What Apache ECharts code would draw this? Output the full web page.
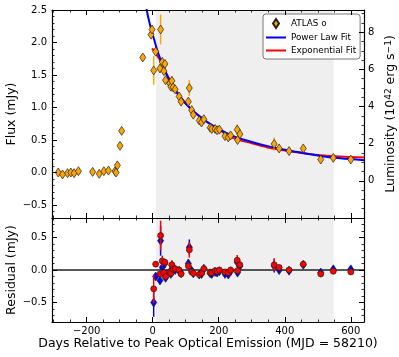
<!DOCTYPE html>
<html>
<head>
<meta charset="utf-8">
<script src="https://cdn.jsdelivr.net/npm/echarts@6/dist/echarts.min.js"></script>
<style>html,body{margin:0;padding:0;background:#fff}#chart{width:399px;height:357px}</style>
</head>
<body>
<div id="chart"></div>
<script>
// ATLAS o light curve, days relative to peak (MJD 58210)
var preDays = [-286, -273, -258, -248, -238, -225, -182, -162, -148, -134, -114, -111, -107, -99, -94, -30, -5, -2];
var preFlux = [0.00, -0.03, -0.01, 0.00, -0.01, 0.02, 0.01, -0.02, 0.02, 0.03, 0.02, 0.00, 0.11, 0.41, 0.64, 1.77, 2.12, 2.20];
var preErr = [0.02, 0.02, 0.02, 0.02, 0.02, 0.02, 0.02, 0.02, 0.02, 0.02, 0.02, 0.02, 0.02, 0.03, 0.03, 0.03, 0.04, 0.04];

// points used for the fits (these have residuals)
var fitDays = [3, 9, 22, 24, 29, 34, 37, 39, 52, 55, 58, 62, 68, 80, 86, 108, 111, 118, 123, 141, 148, 155, 174, 179, 189, 195, 202, 219, 229, 236, 256, 257, 264, 368, 383, 413, 456, 509, 547, 600];
var fitFlux = [1.57, 1.86, 1.60, 2.20, 1.70, 1.56, 1.67, 1.42, 1.37, 1.32, 1.41, 1.31, 1.28, 1.17, 1.09, 1.09, 1.30, 0.96, 0.89, 0.80, 0.77, 0.82, 0.69, 0.67, 0.67, 0.65, 0.66, 0.56, 0.54, 0.57, 0.66, 0.50, 0.59, 0.44, 0.37, 0.33, 0.37, 0.20, 0.225, 0.20];
var fitErr = [0.22, 0.04, 0.05, 0.23, 0.08, 0.04, 0.05, 0.04, 0.04, 0.04, 0.07, 0.04, 0.04, 0.04, 0.04, 0.06, 0.12, 0.03, 0.03, 0.03, 0.03, 0.03, 0.03, 0.03, 0.03, 0.03, 0.03, 0.03, 0.03, 0.03, 0.08, 0.03, 0.04, 0.10, 0.03, 0.03, 0.03, 0.03, 0.03, 0.03];
var plResid = [-0.50, -0.10, -0.16, 0.45, 0.04, -0.06, 0.10, -0.12, -0.03, -0.06, 0.07, 0.00, 0.00, -0.01, -0.05, 0.10, 0.35, -0.01, -0.05, -0.07, -0.06, 0.02, -0.05, -0.06, -0.03, -0.04, -0.02, -0.06, -0.07, -0.02, 0.12, -0.04, 0.06, 0.06, 0.00, -0.01, 0.08, -0.04, 0.01, 0.01];
var expResid = [-0.29, 0.09, -0.06, 0.53, 0.14, -0.04, 0.12, -0.10, -0.03, -0.05, 0.08, 0.01, 0.02, 0.00, -0.06, 0.06, 0.31, -0.03, -0.05, -0.07, -0.05, 0.02, -0.04, -0.04, -0.01, -0.02, 0.00, -0.03, -0.04, 0.00, 0.15, -0.01, 0.08, 0.08, 0.04, 0.00, 0.09, -0.06, -0.02, -0.03];

// fit curves
var plDays = [-20, -18, -8, 2, 12, 22, 32, 42, 62, 83, 113, 143, 164, 200, 244, 300, 345, 400, 467, 507, 568, 640];
var plFlux = [2.62, 2.50, 2.27, 2.09, 1.91, 1.76, 1.63, 1.51, 1.31, 1.16, 0.99, 0.86, 0.78, 0.67, 0.56, 0.47, 0.41, 0.35, 0.29, 0.255, 0.22, 0.19];
var expDays = [-2, 12, 22, 32, 42, 62, 83, 113, 143, 164, 200, 244, 300, 345, 400, 467, 507, 568, 640];
var expFlux = [1.91, 1.81, 1.73, 1.63, 1.52, 1.33, 1.17, 0.99, 0.86, 0.78, 0.66, 0.53, 0.45, 0.39, 0.34, 0.29, 0.265, 0.245, 0.23];

var fitWindow = [10, 548];

var FONT = 'DejaVu Sans';
var chart = echarts.init(document.getElementById('chart'), null, {renderer: 'canvas'});

function pairs(xs, ys) { return xs.map(function (x, i) { return [x, ys[i]]; }); }
function bars(xs, ys, es) { return xs.map(function (x, i) { return [x, ys[i] - es[i], ys[i] + es[i]]; }); }
function minus(v, d) { var s = v.toFixed(d); return v < 0 ? '\u2212' + s.slice(1) : s; }
function isStep(v, step) { var q = v / step; return Math.abs(q - Math.round(q)) < 1e-6; }

function errBar(color, w) {
	return function (params, api) {
		var a = api.coord([api.value(0), api.value(1)]);
		var b = api.coord([api.value(0), api.value(2)]);
		return {type: 'line', shape: {x1: a[0], y1: a[1], x2: b[0], y2: b[1]}, style: {stroke: color, lineWidth: w}};
	};
}

function ax(o) {
	var base = {
		type: 'value', splitLine: {show: false}, z: 10, nameMoveOverlap: false,
		axisLine: {onZero: false, lineStyle: {color: '#000', width: 1.2}},
		axisTick: {inside: true, length: 5, lineStyle: {color: '#000', width: 1}},
		minorTick: {show: true, length: 2.5, lineStyle: {color: '#000', width: 0.8}},
		axisLabel: {show: false, color: '#000', fontSize: 10, fontFamily: FONT},
		nameTextStyle: {color: '#000', fontSize: 12.5, fontFamily: FONT}
	};
	for (var k in o) {
		if (typeof o[k] === 'object' && base[k] && !Array.isArray(o[k])) {
			for (var j in o[k]) base[k][j] = o[k][j];
		} else base[k] = o[k];
	}
	return base;
}

function xa(grid, pos, labels, extra) {
	var o = {gridIndex: grid, position: pos, min: -305, max: 640, splitNumber: 5, minorTick: {splitNumber: 4}};
	if (labels) o.axisLabel = {show: true, margin: 4, formatter: function (v) { return isStep(v, 200) ? minus(v, 0) : ''; }};
	for (var k in extra || {}) o[k] = extra[k];
	return ax(o);
}

chart.setOption({
	animation: false,
	backgroundColor: '#fff',
	grid: [
		{left: 52, right: 35, top: 10, height: 208, outerBoundsMode: 'none', containLabel: false},
		{left: 52, right: 35, top: 218, height: 104, outerBoundsMode: 'none', containLabel: false}
	],
	legend: {
		data: [
			{name: 'ATLAS o', icon: 'path://M3,0L6,4.5L3,9L0,4.5Z'},
			{name: 'Power Law Fit', icon: 'path://M0,0H20V2H0Z'},
			{name: 'Exponential Fit', icon: 'path://M0,0H20V2H0Z'}
		],
		orient: 'vertical', left: 263, top: 14,
		itemWidth: 20, itemHeight: 9, itemGap: 4,
		textStyle: {fontSize: 8.8, fontFamily: FONT, color: '#000'},
		backgroundColor: 'rgba(255,255,255,0.85)', borderColor: '#555', borderWidth: 0.8, borderRadius: 3,
		padding: [4, 4, 4, 3]
	},
	xAxis: [
		xa(0, 'bottom', false),
		xa(0, 'top', false),
		xa(1, 'bottom', true, {name: 'Days Relative to Peak Optical Emission (MJD = 58210)', nameLocation: 'middle', nameGap: 15}),
		xa(1, 'top', false)
	],
	yAxis: [
		ax({gridIndex: 0, position: 'left', min: -0.7, max: 2.5, splitNumber: 6, minorTick: {splitNumber: 5},
			name: 'Flux (mJy)', nameLocation: 'middle', nameGap: 34, nameRotate: 90,
			axisLabel: {show: true, margin: 5, formatter: function (v) { return isStep(v, 0.5) ? minus(v, 1) : ''; }}}),
		ax({gridIndex: 0, position: 'right', min: -2, max: 9.2, interval: 2, minorTick: {splitNumber: 4},
			name: 'Luminosity (10{sup|42} erg s{sup|\u22121})', nameLocation: 'middle', nameGap: 20, nameRotate: 90,
			nameTextStyle: {rich: {sup: {fontSize: 9, fontFamily: FONT, color: '#000', verticalAlign: 'top', lineHeight: 9}}},
			axisLabel: {show: true, margin: 4, formatter: function (v) { return (v >= 0 && v <= 8 && isStep(v, 2)) ? String(v) : ''; }}}),
		ax({gridIndex: 1, position: 'left', min: -0.8, max: 0.8, splitNumber: 3, minorTick: {splitNumber: 5},
			name: 'Residual (mJy)', nameLocation: 'middle', nameGap: 34, nameRotate: 90,
			axisLabel: {show: true, margin: 5, formatter: function (v) { return isStep(v, 0.5) ? minus(v, 1) : ''; }}}),
		ax({gridIndex: 1, position: 'right', min: -0.8, max: 0.8, splitNumber: 3, minorTick: {splitNumber: 5}})
	],
	series: [
		{
			name: 'shadeTop', type: 'line', xAxisIndex: 0, yAxisIndex: 0, data: [], z: 1, silent: true,
			markArea: {silent: true, itemStyle: {color: '#efefef'}, data: [[{xAxis: fitWindow[0]}, {xAxis: fitWindow[1]}]]}
		},
		{
			name: 'shadeBottom', type: 'line', xAxisIndex: 2, yAxisIndex: 2, data: [], z: 1, silent: true,
			markArea: {silent: true, itemStyle: {color: '#efefef'}, data: [[{xAxis: fitWindow[0]}, {xAxis: fitWindow[1]}]]},
			markLine: {silent: true, symbol: 'none', label: {show: false}, lineStyle: {color: '#222', width: 1.5, type: 'solid'}, data: [{yAxis: 0}]}
		},
		{
			name: 'Exponential Fit', type: 'line', xAxisIndex: 0, yAxisIndex: 0, data: pairs(expDays, expFlux),
			symbol: 'none', showSymbol: false, smooth: 0.3, lineStyle: {color: '#ff0000', width: 2}, itemStyle: {color: '#ff0000'}, z: 3
		},
		{
			name: 'Power Law Fit', type: 'line', xAxisIndex: 0, yAxisIndex: 0, data: pairs(plDays, plFlux),
			symbol: 'none', showSymbol: false, smooth: 0.3, lineStyle: {color: '#0000ff', width: 2}, itemStyle: {color: '#0000ff'}, z: 3
		},
		{
			name: 'fluxErr', type: 'custom', xAxisIndex: 0, yAxisIndex: 0, clip: true, z: 4,
			data: bars(preDays.concat(fitDays), preFlux.concat(fitFlux), preErr.concat(fitErr)),
			encode: {x: 0, y: [1, 2]}, renderItem: errBar('#ffa500', 1.5)
		},
		{
			name: 'ATLAS o', type: 'scatter', xAxisIndex: 0, yAxisIndex: 0, z: 5,
			data: pairs(preDays.concat(fitDays), preFlux.concat(fitFlux)),
			symbol: 'diamond', symbolSize: [6, 9],
			itemStyle: {color: '#ffa500', borderColor: '#222', borderWidth: 0.7, opacity: 1}
		},
		{
			name: 'plErr', type: 'custom', xAxisIndex: 2, yAxisIndex: 2, clip: true, z: 4,
			data: bars(fitDays, plResid, fitErr), encode: {x: 0, y: [1, 2]}, renderItem: errBar('#0000ff', 1.5)
		},
		{
			name: 'plRes', type: 'scatter', xAxisIndex: 2, yAxisIndex: 2, z: 5,
			data: pairs(fitDays, plResid), symbol: 'diamond', symbolSize: [6, 9],
			itemStyle: {color: '#0000ff', borderColor: '#222', borderWidth: 0.7, opacity: 1}
		},
		{
			name: 'expErr', type: 'custom', xAxisIndex: 2, yAxisIndex: 2, clip: true, z: 6,
			data: bars(fitDays, expResid, fitErr), encode: {x: 0, y: [1, 2]}, renderItem: errBar('#ff0000', 1.5)
		},
		{
			name: 'expRes', type: 'scatter', xAxisIndex: 2, yAxisIndex: 2, z: 7,
			data: pairs(fitDays, expResid), symbol: 'circle', symbolSize: 6,
			itemStyle: {color: '#ff0000', borderColor: '#222', borderWidth: 0.7, opacity: 1}
		}
	]
});
</script>
</body>
</html>
